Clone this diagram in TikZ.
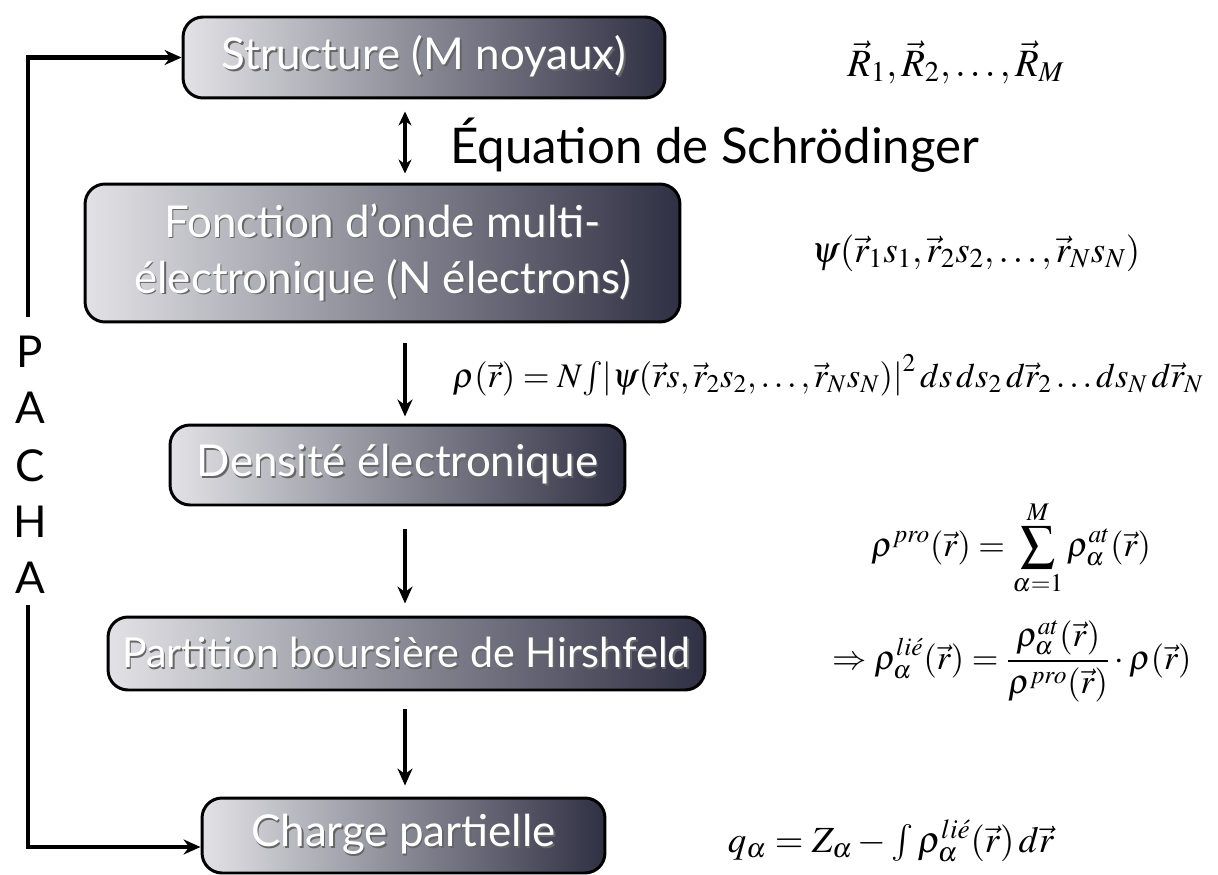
\documentclass[tikz,border=0pt]{standalone}
\usepackage{mathptmx}
\usepackage[no-math]{fontspec}
\setmainfont{Lato}
\usetikzlibrary{arrows.meta,calc}
\definecolor{boxL}{RGB}{226,226,230}
\definecolor{boxM}{RGB}{140,140,158}
\definecolor{boxR}{RGB}{48,48,68}
\newcommand{\stxt}[1]{\makebox[0pt][l]{\hspace{0.9pt}\raisebox{-0.9pt}{\color{black!60}#1}}#1}
\newcommand{\mfont}{\fontsize{22}{26}\selectfont}
\begin{document}
\begin{tikzpicture}[x=0.02cm,y=-0.02cm,
  flowbox/.style={draw=black, line width=1.7pt, rounded corners=0.4cm,
    left color=boxL, middle color=boxM, right color=boxR, text=white,
    font=\fontsize{25}{32}\selectfont, align=center, inner sep=0pt},
  arr/.style={line width=2.4pt, -{Stealth[length=0.34cm,width=0.3cm]}},
  darr/.style={line width=2.2pt, {Stealth[length=0.28cm,width=0.26cm]}-{Stealth[length=0.28cm,width=0.26cm]}},
  letter/.style={font=\fontsize{25}{30}\selectfont, inner sep=0pt},
  eq/.style={font=\mfont, inner sep=0pt}]
\useasboundingbox (0,0) rectangle (1218,875);
\fill[white] (0,0) rectangle (1218,875);

\node[flowbox, minimum width=9.64cm, minimum height=1.62cm] (s1) at (424,57.5) {\stxt{Structure (M noyaux)}};
\node[flowbox, minimum width=11.9cm, minimum height=2.76cm] (s2) at (382.5,253) {\stxt{Fonction d’onde multi-}\\\stxt{électronique (N électrons)}};
\node[flowbox, minimum width=9.1cm, minimum height=1.6cm] (s3) at (397.5,465) {\stxt{Densité électronique}};
\node[flowbox, minimum width=11.94cm, minimum height=1.46cm, font=\fontsize{23.5}{30}\selectfont] (s4) at (406.5,653.5) {\stxt{Partition boursière de Hirshfeld}};
\node[flowbox, minimum width=8.06cm, minimum height=1.5cm] (s5) at (403.5,835.5) {\stxt{Charge partielle}};

\coordinate (ax) at (405,0);
\draw[darr, shorten <=0.24cm, shorten >=0.18cm] (s1.south -| ax) -- (s2.north -| ax);
\draw[arr, shorten <=0.4cm, shorten >=0.14cm] (s2.south -| ax) -- (s3.north -| ax);
\draw[arr, shorten <=0.46cm, shorten >=0.24cm] (s3.south -| ax) -- (s4.north -| ax);
\draw[arr, shorten <=0.36cm, shorten >=0.22cm] (s4.south -| ax) -- (s5.north -| ax);

\node[font=\fontsize{28}{33}\selectfont, anchor=west, inner sep=0pt] (schr) at (450,145) {Équation de Schrödinger};

\node[letter] (p1) at (30,352) {P};
\node[letter] (p2) at (30,408) {A};
\node[letter] (p3) at (30,466) {C};
\node[letter] (p4) at (30,522) {H};
\node[letter] (p5) at (30,578) {A};

\coordinate (gt) at (28,317);
\coordinate (gb) at (28,605);
\draw[arr] (gt) |- (s1.west);
\draw[arr] (gb) |- ($(s5.west)+(0,11.5)$);

\node[eq] (eR) at (956,62) {$\vec R_1,\vec R_2,\ldots,\vec R_M$};
\node[eq, font=\fontsize{21}{26}\selectfont] (epsi) at (976,253) {$\psi(\vec r_1 s_1,\vec r_2 s_2,\ldots,\vec r_N s_N)$};
\node[eq, font=\fontsize{19.6}{24}\selectfont] (erho) at (828,375) {$\rho(\vec r) = N\!\int\!\left|\psi(\vec r s,\vec r_2 s_2,\ldots,\vec r_N s_N)\right|^2 ds\,ds_2\,d\vec r_2\ldots ds_N\,d\vec r_N$};
\node[eq, font=\fontsize{19.5}{24}\selectfont] (epro) at (1011,548) {$\displaystyle \rho^{pro}(\vec r) = \sum_{\alpha=1}^{M}\rho_\alpha^{at}(\vec r)$};
\node[eq, font=\fontsize{19.5}{24}\selectfont] (elie) at (1012,661) {$\displaystyle \Rightarrow \rho_\alpha^{li\acute e}(\vec r) = \frac{\rho_\alpha^{at}(\vec r)}{\rho^{pro}(\vec r)}\cdot\rho(\vec r)$};
\node[eq, font=\fontsize{21}{26}\selectfont] (eq) at (891,841) {$q_\alpha = Z_\alpha - \int \rho_\alpha^{li\acute e}(\vec r)\,d\vec r$};
\end{tikzpicture}
\end{document}
